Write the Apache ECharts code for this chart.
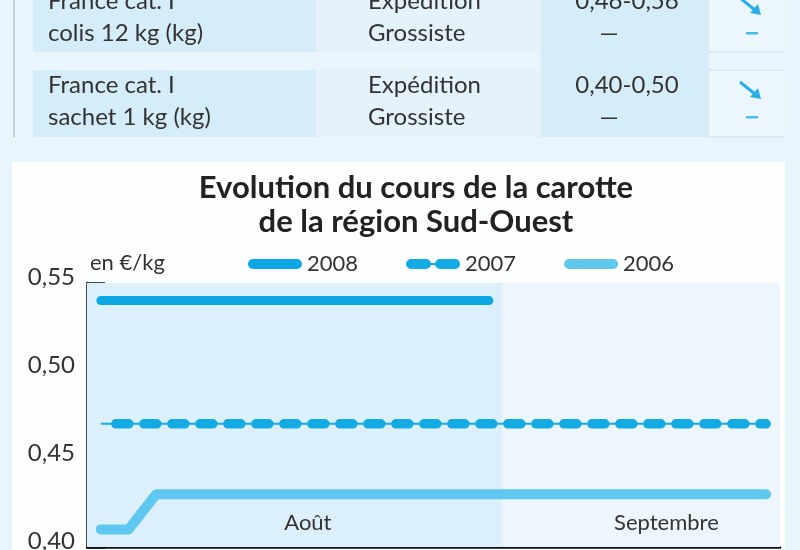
<!DOCTYPE html>
<html>
<head>
<meta charset="utf-8">
<script src="https://cdn.jsdelivr.net/npm/echarts@6/dist/echarts.min.js"></script>
<style>html,body{margin:0;padding:0;background:#e9f5fc;}#c{width:800px;height:550px;}</style>
</head>
<body>
<div id="c"></div>
<script>
// ---- data ----
const categories = ['1','2','3','4','5','6','7','8','9','10','11','12','13','14','15','16','17','18','19','20','21','22','23','24','25'];
const months = ['Août', 'Septembre'];
const monthBounds = [0, 15, 25];
const yTickLabels = ['0,40', '0,45', '0,50', '0,55'];
const seriesNames = ['2008', '2007', '2006'];
const s2008 = [0.54,0.54,0.54,0.54,0.54,0.54,0.54,0.54,0.54,0.54,0.54,0.54,0.54,0.54,0.54];
const s2007 = [0.47,0.47,0.47,0.47,0.47,0.47,0.47,0.47,0.47,0.47,0.47,0.47,0.47,0.47,0.47,0.47,0.47,0.47,0.47,0.47,0.47,0.47,0.47,0.47,0.47];
const s2006 = [0.41,0.41,0.43,0.43,0.43,0.43,0.43,0.43,0.43,0.43,0.43,0.43,0.43,0.43,0.43,0.43,0.43,0.43,0.43,0.43,0.43,0.43,0.43,0.43,0.43];
const titleLines = ['Evolution du cours de la carotte', 'de la région Sud-Ouest'];
const unitLabel = 'en €/kg';
// table above the chart
const tableProducts = [['France cat. I', 'colis 12 kg (kg)'], ['France cat. I', 'sachet 1 kg (kg)']];
const tableStages = [['Expédition', 'Grossiste'], ['Expédition', 'Grossiste']];
const tablePrices = [['0,46-0,56', '—'], ['0,40-0,50', '—']];

// ---- styles ----
const FONT = 'Lato, "Noto Sans", sans-serif';
const TXT = '#333';
const C2008 = '#0ba8e3', C2007 = '#14aae3', C2006 = '#5ec8f1';
const PILL = 'path://M5,0H49A5,5,0,0,1,49,10H5A5,5,0,0,1,5,0Z';
const PILLS2 = 'path://M5,0H20A5,5,0,0,1,20,10H5A5,5,0,0,1,5,0ZM24,4H31V6H24ZM34,0H49A5,5,0,0,1,49,10H34A5,5,0,0,1,34,0Z';

const chart = echarts.init(document.getElementById('c'));

const graphics = [];
// table backgrounds
const rowY = [[-10, 52], [70, 137]];
rowY.forEach(function (r) {
  graphics.push({type:'rect', shape:{x:33, y:r[0], width:283, height:r[1]-r[0]}, style:{fill:'#d4edf9'}, z:0});
  graphics.push({type:'rect', shape:{x:316, y:r[0], width:225, height:r[1]-r[0]}, style:{fill:'#e3f2fb'}, z:0});
  graphics.push({type:'rect', shape:{x:709, y:r[0], width:76, height:r[1]-r[0]}, style:{fill:'#ecf7fd'}, z:0});
  graphics.push({type:'line', shape:{x1:709, y1:r[1], x2:785, y2:r[1]}, style:{stroke:'#d3e6f0', lineWidth:1.5}, z:1});
});
graphics.push({type:'line', shape:{x1:709, y1:70, x2:785, y2:70}, style:{stroke:'#d3e6f0', lineWidth:1.5}, z:1});
graphics.push({type:'rect', shape:{x:541, y:-10, width:168, height:147}, style:{fill:'#d4edf9'}, z:0});
graphics.push({type:'rect', shape:{x:13, y:0, width:2, height:137}, style:{fill:'#c4d0d6'}, z:0});
// chart panel
graphics.push({type:'rect', shape:{x:12, y:162, width:773, height:400}, style:{fill:'#fdfeff'}, z:0});

const rowTextY = [[1, 33], [85, 117]];
tableProducts.forEach(function (p, i) {
  for (let k = 0; k < 2; k++) {
    graphics.push({type:'text', x:48, y:rowTextY[i][k], z:2, style:{text:p[k], font:'24px ' + FONT, fill:TXT, textVerticalAlign:'middle'}});
    graphics.push({type:'text', x:368, y:rowTextY[i][k], z:2, style:{text:tableStages[i][k], font:'24px ' + FONT, fill:TXT, textVerticalAlign:'middle'}});
    graphics.push({type:'text', x:k === 0 ? 627 : 609, y:rowTextY[i][k], z:2, style:{text:tablePrices[i][k], font:'24px ' + FONT, fill:TXT, textAlign:'center', textVerticalAlign:'middle'}});
  }
  const ay = rowTextY[i][0];
  graphics.push({type:'line', shape:{x1:740, y1:ay-3, x2:755, y2:ay+9}, style:{stroke:'#2aaee6', lineWidth:3}, z:2});
  graphics.push({type:'polygon', shape:{points:[[761, ay+14], [750, ay+12], [758, ay+3]]}, style:{fill:'#2aaee6'}, z:2});
  graphics.push({type:'rect', shape:{x:746, y:rowTextY[i][1]-1, width:12, height:2.5}, style:{fill:'#4cbbea'}, z:2});
});
// unit label
graphics.push({type:'text', x:90, y:263, z:5, style:{text:unitLabel, font:'22px ' + FONT, fill:TXT, textVerticalAlign:'middle'}});

const option = {
  animation: false,
  backgroundColor: '#e9f5fc',
  graphic: graphics,
  title: {
    text: titleLines.join('\n'),
    left: 416,
    top: 171,
    padding: 0,
    textAlign: 'center',
    textStyle: {fontFamily: FONT, fontSize: 31, fontWeight: 'bold', color: '#222', lineHeight: 34}
  },
  legend: {
    left: 243,
    top: 246,
    itemWidth: 54,
    itemHeight: 10,
    itemGap: 48,
    textStyle: {fontFamily: FONT, fontSize: 22, color: TXT, lineHeight: 26},
    data: [
      {name: seriesNames[0], icon: PILL, itemStyle: {color: C2008}},
      {name: seriesNames[1], icon: PILLS2, itemStyle: {color: C2007}},
      {name: seriesNames[2], icon: PILL, itemStyle: {color: C2006}}
    ]
  },
  grid: {left: 87, right: 20, top: 283, bottom: 3, show: false, outerBoundsMode: 'none', containLabel: false},
  xAxis: [
    {
      type: 'category',
      data: categories,
      boundaryGap: true,
      axisLine: {lineStyle: {color: '#111', width: 2.5}},
      axisTick: {inside: true, length: 5, interval: 0, lineStyle: {color: '#111', width: 1.5}},
      axisLabel: {show: false},
      splitLine: {show: false}
    },
    {type: 'value', min: monthBounds[0], max: monthBounds[2], show: false, position: 'top'}
  ],
  yAxis: {
    type: 'value',
    min: 0.40, max: 0.55, interval: 0.05,
    axisLine: {show: true, lineStyle: {color: '#111', width: 2.5}},
    axisTick: {show: true, inside: true, length: 18, lineStyle: {color: '#111', width: 2.5}},
    splitLine: {show: false},
    axisLabel: {
      fontFamily: FONT, fontSize: 24, color: TXT, margin: 12,
      verticalAlign: 'bottom', lineHeight: 12,
      verticalAlignMinLabel: 'bottom',
      verticalAlignMaxLabel: 'bottom',
      formatter: function (v) { return yTickLabels[Math.round((v - 0.40) / 0.05)]; }
    }
  },
  series: [
    {
      name: 'months', type: 'line', xAxisIndex: 1, yAxisIndex: 0, data: [], z: 0, silent: true,
      markArea: {
        silent: true,
        label: {position: 'insideBottom', distance: 13, fontFamily: FONT, fontSize: 22, color: TXT},
        data: [
          [{xAxis: monthBounds[0], name: months[0], itemStyle: {color: '#dcf0fb'}, label: {offset: [13, 0]}}, {xAxis: monthBounds[1]}],
          [{xAxis: monthBounds[1], name: months[1], itemStyle: {color: '#edf6fc'}, label: {offset: [25, 0]}}, {xAxis: monthBounds[2]}]
        ]
      }
    },
    {
      name: seriesNames[0], type: 'line', data: s2008, showSymbol: false, z: 3,
      lineStyle: {color: C2008, width: 9, cap: 'round', join: 'round'}, itemStyle: {color: C2008}
    },
    {
      name: '2007-base', type: 'line', data: s2007, showSymbol: false, z: 3,
      lineStyle: {color: C2007, width: 2}, itemStyle: {color: C2007}
    },
    {
      name: seriesNames[1], type: 'line', data: s2007, showSymbol: false, z: 4,
      lineStyle: {color: C2007, width: 9.5, type: [13, 15], dashOffset: 13, cap: 'round'}, itemStyle: {color: C2007}
    },
    {
      name: seriesNames[2], type: 'line', data: s2006, showSymbol: false, z: 3,
      lineStyle: {color: C2006, width: 10, cap: 'round', join: 'round'}, itemStyle: {color: C2006}
    }
  ]
};
chart.setOption(option);
</script>
</body>
</html>
